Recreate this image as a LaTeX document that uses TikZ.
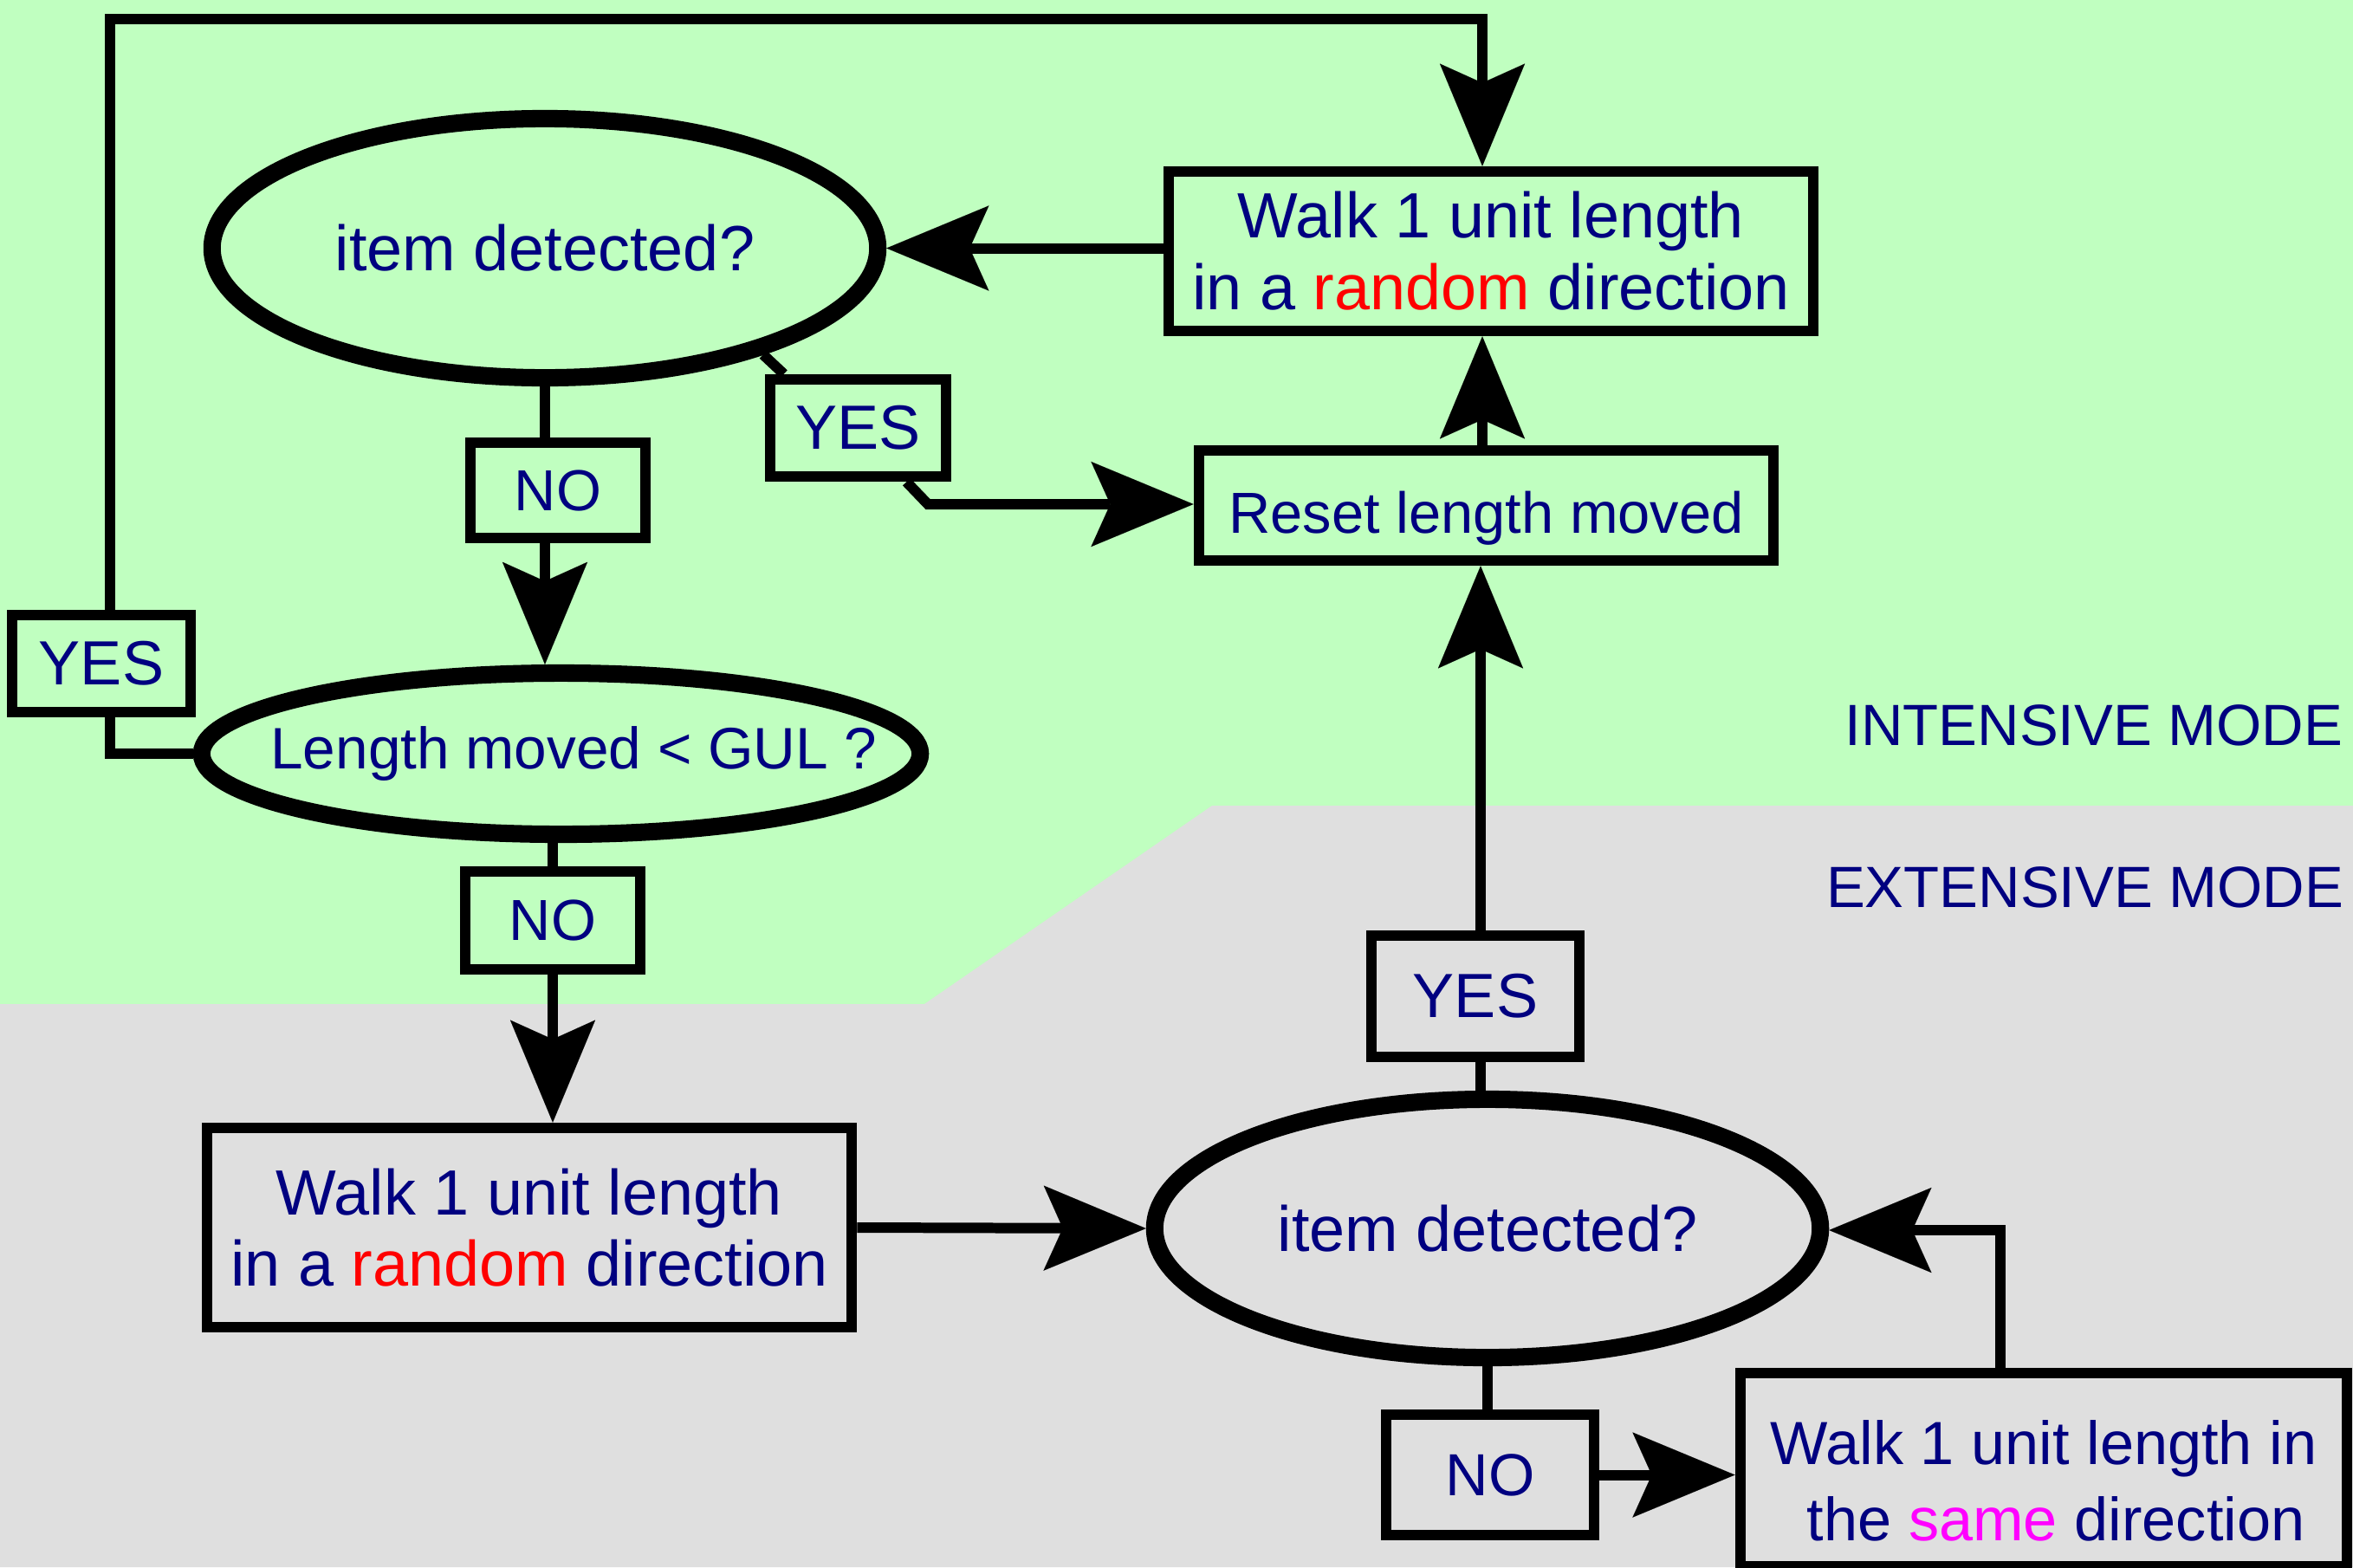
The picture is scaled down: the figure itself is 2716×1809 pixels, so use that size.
\documentclass[tikz,border=0pt]{standalone}
\usepackage{fontspec}
\setmainfont{Liberation Sans}
\usetikzlibrary{shapes.geometric,arrows.meta,calc}
\definecolor{bggreen}{RGB}{192,255,192}
\definecolor{bggray}{RGB}{223,223,223}
\definecolor{txt}{RGB}{0,0,128}
\definecolor{rnd}{RGB}{255,0,0}
\definecolor{mag}{RGB}{255,0,255}
\newcommand{\fsz}[2]{\fontsize{#1}{#2}\selectfont}
\begin{document}
\begin{tikzpicture}[x=0.01cm,y=-0.01cm,
  box/.style={draw=black,line width=3.55pt,rectangle,inner sep=0pt,text=txt,align=center},
  dec/.style={draw=black,line width=5.7pt,ellipse,inner sep=0pt,text=txt},
  conn/.style={draw=black,line width=3.41pt},
  arr/.style={-{Stealth[length=33.6pt,width=27.9pt,inset=6.3pt,line width=0.01pt]}},
  mode/.style={text=txt,anchor=base east,inner sep=0pt}]
\useasboundingbox (0,0) rectangle (2716,1809);
% background regions
\fill[bggreen] (0,0) rectangle (2716,1809);
\fill[bggray] (0,1159) -- (1067,1159) -- (1399,930) -- (2716,930) -- (2716,1809) -- (0,1809) -- cycle;

% decisions
\node[dec,minimum width=7.68cm,minimum height=2.99cm,font={\fsz{21pt}{24pt}}] (e1) at (629,286.5) {\makebox[0pt]{item detected?}};
\node[dec,minimum width=8.29cm,minimum height=1.86cm,font={\fsz{19.2pt}{22pt}}] (e2) at (647.5,870) {\makebox[0pt]{\hspace{8.5pt}Length moved < GUL ?}};
\node[dec,minimum width=7.68cm,minimum height=2.98cm,font={\fsz{21pt}{24pt}}] (e3) at (1717,1418) {\makebox[0pt]{item detected?}};

% boxes
\node[box,minimum width=7.44cm,minimum height=1.84cm,font={\fsz{21pt}{23.6pt}}] (walkT) at (1721,290) {Walk 1 unit length\hspace{0.55em}\\in a \textcolor{rnd}{random} direction};
\node[box,minimum width=6.63cm,minimum height=1.27cm,font={\fsz{19pt}{22pt}}] (reset) at (1715.5,583.5) {\raisebox{-4.3pt}[\height][\depth]{Reset length moved}};
\node[box,minimum width=2.03cm,minimum height=1.12cm,font={\fsz{20.5pt}{23pt}}] (yes1) at (990.5,494) {YES};
\node[box,minimum width=2.02cm,minimum height=1.10cm,font={\fsz{19pt}{22pt}}] (no1) at (644,566) {NO};
\node[box,minimum width=2.06cm,minimum height=1.12cm,font={\fsz{20.5pt}{23pt}}] (yes2) at (117,766) {YES};
\node[box,minimum width=2.02cm,minimum height=1.13cm,font={\fsz{19pt}{22pt}}] (no2) at (638,1062.5) {NO};
\node[box,minimum width=7.44cm,minimum height=2.30cm,font={\fsz{21pt}{23.4pt}}] (walkB) at (611,1417) {Walk 1 unit length\hspace{0.55em}\\in a \textcolor{rnd}{random} direction};
\node[box,minimum width=2.40cm,minimum height=1.40cm,font={\fsz{20.5pt}{23pt}}] (yes3) at (1703,1150) {YES};
\node[box,minimum width=2.40cm,minimum height=1.39cm,font={\fsz{19.5pt}{22pt}}] (no3) at (1720,1702.5) {NO};
\node[box,minimum width=7.00cm,minimum height=2.23cm,font={\fsz{20pt}{25pt}}] (walkR) at (2359,1696.5) {\rule{0pt}{22pt}Walk 1 unit length in\\\hspace{0.4em}the \textcolor{mag}{same} direction};

% mode labels
\node[mode,font={\fsz{19.1pt}{22pt}}] (mi) at (2705,860) {INTENSIVE MODE};
\node[mode,font={\fsz{19.1pt}{22pt}}] (me) at (2706,1047) {EXTENSIVE MODE};

% helper coordinates
\coordinate (tl) at (127,22);
\coordinate (tr) at (1711,22);
\coordinate (yb) at (1071,582);
\coordinate (vx) at (1709,0);
\coordinate (rc) at (2309,1420);

% connectors
\draw[conn,arr] (walkT.west |- e1.east) -- (e1.east);
\draw[conn,arr] (reset.north -| tr) -- (walkT.south -| tr);
\draw[conn] (e1.-26) -- ($(yes1.north west)+(22,0)$);
\draw[conn,arr] ($(yes1.south east)+(-52,0)$) -- (yb) -- (yb -| reset.west);
\draw[conn] (e1.south) -- (e1.south |- no1.north);
\draw[conn,arr] (no1.south -| e1.south) -- (e2.north -| e1.south);
\draw[conn] (e2.south -| no2.north) -- (no2.north);
\draw[conn,arr] (no2.south) -- (walkB.north -| no2.south);
\draw[conn] (e2.west) -- (e2.west -| tl) -- (yes2.south -| tl);
\draw[conn,arr] (yes2.north -| tl) -- (tl) -- (tr) -- (walkT.north -| tr);
\draw[conn,arr] (walkB.east) -- (e3.west);
\draw[conn] (e3.north -| vx) -- (yes3.south -| vx);
\draw[conn,arr] (yes3.north -| vx) -- (reset.south -| vx);
\draw[conn] (e3.south) -- (e3.south |- no3.north);
\draw[conn,arr] (no3.east) -- (no3.east -| walkR.west);
\draw[conn,arr] (rc |- walkR.north) -- (rc) -- (rc -| e3.east);
\end{tikzpicture}
\end{document}
